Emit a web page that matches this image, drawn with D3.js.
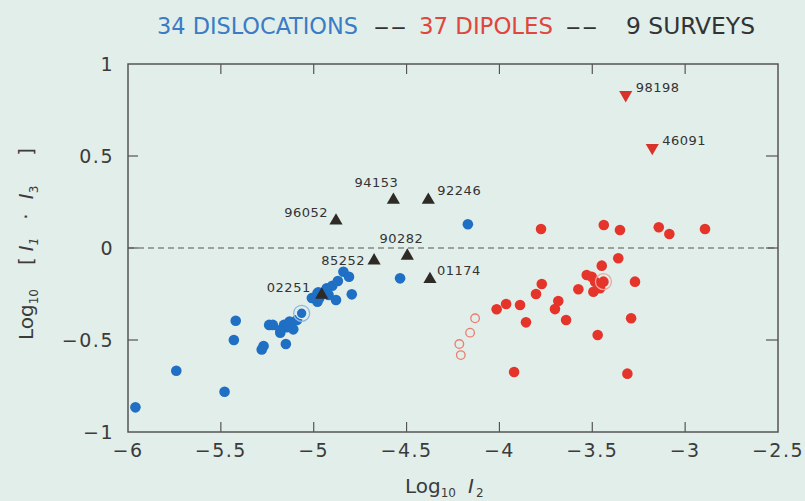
<!DOCTYPE html>
<html>
<head>
<meta charset="utf-8">
<script src="https://cdn.jsdelivr.net/npm/d3@7"></script>
<style>
  html, body { margin: 0; padding: 0; background: #e2eeea; }
  svg { display: block; }
  text { font-family: "DejaVu Sans", sans-serif; }
</style>
</head>
<body>
<svg id="chart" width="805" height="501"></svg>
<script>
// dislocations (blue)
var dislX = [-5.96, -5.74, -5.48, -5.43, -5.42, -5.28, -5.27, -5.24, -5.22, -5.18, -5.15, -5.145, -5.12, -5.11, -5.09, -5.065,
    -4.98, -4.98, -4.97, -4.93, -4.90, -4.87, -4.84, -4.81, -4.88, -4.795, -4.92, -4.975, -4.535, -4.17, -5.13, -5.16, -5.18, -5.01];
var dislY = [-0.866, -0.667, -0.781, -0.5, -0.395, -0.551, -0.533, -0.418, -0.418, -0.46, -0.522, -0.431, -0.409, -0.442, -0.391, -0.355,
    -0.246, -0.292, -0.273, -0.219, -0.205, -0.179, -0.129, -0.156, -0.283, -0.252, -0.255, -0.241, -0.165, 0.129, -0.40, -0.418, -0.446, -0.272];
var dislRinged = [-5.065, -0.355];

// dipoles (red, filled)
var dipX = [-3.776, -3.438, -3.351, -3.142, -3.085, -2.893, -3.36, -3.449, -3.53, -3.503, -3.485, -3.44, -3.27, -3.575, -3.494,
    -3.458, -3.772, -3.803, -4.015, -3.964, -3.889, -3.857, -3.683, -3.701, -3.641, -3.291, -3.471, -3.921, -3.311];
var dipY = [0.103, 0.125, 0.098, 0.113, 0.076, 0.103, -0.056, -0.096, -0.147, -0.156, -0.183, -0.183, -0.183, -0.224, -0.238,
    -0.219, -0.196, -0.25, -0.333, -0.304, -0.31, -0.404, -0.288, -0.332, -0.391, -0.382, -0.473, -0.674, -0.683];
var dipRinged = [-3.44, -0.183];
// dipoles (red, open)
var dipOpenX = [-4.131, -4.158, -4.216, -4.208];
var dipOpenY = [-0.382, -0.46, -0.522, -0.582];

// surveys
var surveyNames = ['96052', '94153', '92246', '90282', '85252', '01174', '02251'];
var surveyX = [-4.88, -4.571, -4.383, -4.496, -4.675, -4.374, -4.957];
var surveyY = [0.148, 0.261, 0.261, -0.043, -0.069, -0.17, -0.255];
var dipSurveyNames = ['98198', '46091'];
var dipSurveyX = [-3.32, -3.177];
var dipSurveyY = [0.832, 0.545];

var xTicks = [-6, -5.5, -5, -4.5, -4, -3.5, -3, -2.5];
var yTicks = [-1, -0.5, 0, 0.5, 1];

var titleParts = ['34 DISLOCATIONS', '--', '37 DIPOLES', '--', '9 SURVEYS'];

// label placement for the named triangles: [dx, dy, anchor]
var labelPos = {
    '96052': [-8, -4, 'end'], '94153': [5, -13, 'end'], '92246': [9, -5, 'start'],
    '90282': [-6, -13, 'middle'], '85252': [-9, 4, 'end'], '01174': [7, -4, 'start'],
    '02251': [-11, -3, 'end'], '98198': [10, -3, 'start'], '46091': [10, -3, 'start']
};

var blue = '#1f6fc4', red = '#e5352b', dark = '#2e2a26', axisCol = '#555', textCol = '#3b3b3b';

var svg = d3.select('#chart'),
    margin = {left: 128, right: 27, top: 64, bottom: 69},
    width = +svg.attr('width'),
    height = +svg.attr('height');

var x = d3.scaleLinear().domain([-6, -2.5]).range([margin.left, width - margin.right]);
var y = d3.scaleLinear().domain([-1, 1]).range([height - margin.bottom, margin.top]);

// title, one piece per segment so each keeps its place
var titleSlots = [[157, 201, '#3a7cc6'], [373, 34, '#333'], [419, 134, '#e0463c'], [565, 33, '#333'], [626, 129, '#333']];
svg.append('g').selectAll('text').data(titleParts).enter().append('text')
    .attr('x', function(d, i) { return titleSlots[i][0]; })
    .attr('y', 34)
    .attr('textLength', function(d, i) { return titleSlots[i][1]; })
    .attr('lengthAdjust', 'spacingAndGlyphs')
    .attr('fill', function(d, i) { return titleSlots[i][2]; })
    .style('font-family', '"DejaVu Sans Condensed", "DejaVu Sans", sans-serif')
    .style('font-size', '23px')
    .text(function(d) { return d; });

// frame
svg.append('rect')
    .attr('x', x(-6)).attr('y', y(1))
    .attr('width', x(-2.5) - x(-6)).attr('height', y(-1) - y(1))
    .attr('fill', 'none').attr('stroke', axisCol).attr('stroke-width', 1.5);

// inward ticks
var inner = xTicks.slice(1, -1);
svg.append('g').selectAll('line').data(inner).enter().append('line')
    .attr('x1', function(d) { return x(d); }).attr('x2', function(d) { return x(d); })
    .attr('y1', y(-1)).attr('y2', y(-1) - 10)
    .attr('stroke', axisCol).attr('stroke-width', 1.2);
svg.append('g').selectAll('line').data(inner).enter().append('line')
    .attr('x1', function(d) { return x(d); }).attr('x2', function(d) { return x(d); })
    .attr('y1', y(1)).attr('y2', y(1) + 10)
    .attr('stroke', axisCol).attr('stroke-width', 1.2);
var yInner = yTicks.slice(1, -1);
svg.append('g').selectAll('line').data(yInner).enter().append('line')
    .attr('x1', x(-6)).attr('x2', x(-6) + 10)
    .attr('y1', function(d) { return y(d); }).attr('y2', function(d) { return y(d); })
    .attr('stroke', axisCol).attr('stroke-width', 1.2);
svg.append('g').selectAll('line').data(yInner).enter().append('line')
    .attr('x1', x(-2.5)).attr('x2', x(-2.5) - 12)
    .attr('y1', function(d) { return y(d); }).attr('y2', function(d) { return y(d); })
    .attr('stroke', axisCol).attr('stroke-width', 1.2);

// tick labels
function fmt(d) { return String(d).replace('-', '\u2212'); }
svg.append('g').selectAll('text').data(xTicks).enter().append('text')
    .attr('x', function(d) { return x(d); }).attr('y', y(-1) + 25)
    .attr('text-anchor', 'middle')
    .attr('fill', textCol).style('font-size', '19px')
    .style('letter-spacing', '1.5px')
    .text(fmt);
svg.append('g').selectAll('text').data(yTicks).enter().append('text')
    .attr('x', x(-6) - 14).attr('y', function(d) { return y(d) + 7; })
    .attr('text-anchor', 'end')
    .attr('fill', textCol).style('font-size', '19px')
    .style('letter-spacing', '1.5px')
    .text(fmt);

// axis titles
var xl = svg.append('text')
    .attr('x', 405).attr('y', 493)
    .attr('fill', textCol).style('font-size', '20px');
xl.append('tspan').text('Log');
xl.append('tspan').attr('dy', 4).style('font-size', '12px').text('10');
xl.append('tspan').attr('dy', -4).attr('dx', 12).style('font-style', 'italic').text('I');
xl.append('tspan').attr('dy', 4).attr('dx', 2).style('font-size', '12px').text('2');

var yl = svg.append('text')
    .attr('transform', 'translate(33,340) rotate(-90)')
    .attr('fill', textCol).style('font-size', '20px');
yl.append('tspan').text('Log');
yl.append('tspan').attr('dy', 5).style('font-size', '12px').text('10');
yl.append('tspan').attr('dy', -5).attr('dx', 24).text('[');
yl.append('tspan').attr('dx', 6).style('font-style', 'italic').text('I');
yl.append('tspan').attr('dy', 5).style('font-size', '12px').style('font-style', 'italic').text('1');
yl.append('tspan').attr('dy', -5).attr('dx', 18).text('\u00b7');
yl.append('tspan').attr('dx', 14).style('font-style', 'italic').text('I');
yl.append('tspan').attr('dy', 5).style('font-size', '12px').text('3');
yl.append('tspan').attr('dy', -5).attr('dx', 30).text(']');

// zero line
svg.append('line')
    .attr('x1', x(-6)).attr('x2', x(-2.5))
    .attr('y1', y(0)).attr('y2', y(0))
    .attr('stroke', '#555').attr('stroke-width', 1.2)
    .attr('stroke-dasharray', '6,4');

// dislocations
var disl = dislX.map(function(v, i) { return {x: v, y: dislY[i]}; });
svg.append('g').selectAll('circle').data(disl).enter().append('circle')
    .attr('cx', function(d) { return x(d.x); })
    .attr('cy', function(d) { return y(d.y); })
    .attr('r', 5.3).attr('fill', blue);
svg.append('circle')
    .attr('cx', x(dislRinged[0])).attr('cy', y(dislRinged[1]))
    .attr('r', 8).attr('fill', 'none').attr('stroke', '#8fb6e4').attr('stroke-width', 1.3);
svg.append('circle')
    .attr('cx', x(dislRinged[0])).attr('cy', y(dislRinged[1]))
    .attr('r', 5.3).attr('fill', 'none').attr('stroke', '#e2eeea').attr('stroke-width', 1.2);

// dipoles
var dip = dipX.map(function(v, i) { return {x: v, y: dipY[i]}; });
svg.append('g').selectAll('circle').data(dip).enter().append('circle')
    .attr('cx', function(d) { return x(d.x); })
    .attr('cy', function(d) { return y(d.y); })
    .attr('r', 5.3).attr('fill', red);
svg.append('circle')
    .attr('cx', x(dipRinged[0])).attr('cy', y(dipRinged[1]))
    .attr('r', 8).attr('fill', 'none').attr('stroke', '#f0a59c').attr('stroke-width', 1.3);
var dipOpen = dipOpenX.map(function(v, i) { return {x: v, y: dipOpenY[i]}; });
svg.append('g').selectAll('circle').data(dipOpen).enter().append('circle')
    .attr('cx', function(d) { return x(d.x); })
    .attr('cy', function(d) { return y(d.y); })
    .attr('r', 4.3).attr('fill', 'none')
    .attr('stroke', '#ec7d70').attr('stroke-width', 1.3);

// survey triangles
var up = d3.symbol().type(d3.symbolTriangle).size(75);
var surveys = surveyX.map(function(v, i) { return {x: v, y: surveyY[i], name: surveyNames[i], down: false}; })
    .concat(dipSurveyX.map(function(v, i) { return {x: v, y: dipSurveyY[i], name: dipSurveyNames[i], down: true}; }));

svg.append('g').selectAll('path').data(surveys).enter().append('path')
    .attr('d', up)
    .attr('transform', function(d) {
        return 'translate(' + x(d.x) + ',' + y(d.y) + ')' + (d.down ? ' rotate(180)' : '');
    })
    .attr('fill', function(d) { return d.down ? '#d8332a' : dark; });

svg.append('g').selectAll('text').data(surveys).enter().append('text')
    .attr('x', function(d) { return x(d.x) + labelPos[d.name][0]; })
    .attr('y', function(d) { return y(d.y) + labelPos[d.name][1]; })
    .attr('text-anchor', function(d) { return labelPos[d.name][2]; })
    .attr('fill', '#333').style('font-size', '13px')
    .style('letter-spacing', '0.5px')
    .text(function(d) { return d.name; });
</script>
</body>
</html>
